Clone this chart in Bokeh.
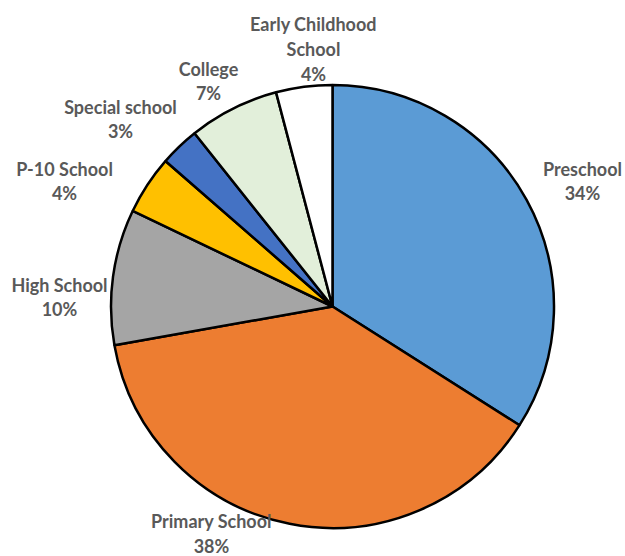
import math
from bokeh.plotting import figure
from bokeh.models import Range1d, ColumnDataSource
from bokeh.core.properties import value
from bokeh.embed import file_html
from bokeh.resources import INLINE

# ---- data ----
categories = ["Preschool", "Primary School", "High School", "P-10 School",
              "Special school", "College", "Early Childhood School"]
shares = [34.0, 38.2, 9.9, 4.3, 2.9, 6.6, 4.1]
label_names = ["Preschool", "Primary School", "High School", "P-10 School",
               "Special school", "College", "Early Childhood\nSchool"]
colors = ["#5B9BD5", "#ED7D31", "#A5A5A5", "#FFC000", "#4472C4", "#E2EFDA", "#FFFFFF"]

# ---- layout (pixels, y measured from top; label block centres) ----
W, H = 625, 556
cx, cy, r = 332, 306, 221.5
label_pos = [(582, 180.5), (211, 533), (59, 296.5), (64, 180.5),
             (120, 118.5), (208, 80.5), (313, 48.5)]

total = sum(shares)
starts, ends = [], []
cum = 0.0
for s in shares:
    starts.append(math.pi / 2 - 2 * math.pi * cum / total)
    cum += s
    ends.append(math.pi / 2 - 2 * math.pi * cum / total)

src = ColumnDataSource(dict(
    x=[cx] * len(shares), y=[H - cy] * len(shares),
    start=starts, end=ends, color=colors, name=categories))

p = figure(width=W, height=H, output_backend="svg", toolbar_location=None,
           x_range=Range1d(0, W), y_range=Range1d(0, H),
           min_border=0, min_border_left=0, min_border_right=0,
           min_border_top=0, min_border_bottom=0)
p.axis.visible = False
p.grid.visible = False
p.outline_line_color = None
p.background_fill_color = "white"
p.border_fill_color = "white"

p.wedge(x="x", y="y", radius=r, start_angle="start", end_angle="end",
        direction="clock", fill_color="color", line_color="black",
        line_width=2.5, source=src)

texts = []
lx, ly = [], []
for name, s, (x, y) in zip(label_names, shares, label_pos):
    texts.append(f"{name}\n{round(s / total * 100)}%")
    lx.append(x)
    ly.append(H - y)

p.text(x=lx, y=ly, text=texts, text_align="center", text_baseline="middle",
       text_font=value("Lato"), text_font_style="bold", text_font_size="18px",
       text_color="#595959", text_line_height=1.13)

open("out.html", "w").write(file_html(p, INLINE))
